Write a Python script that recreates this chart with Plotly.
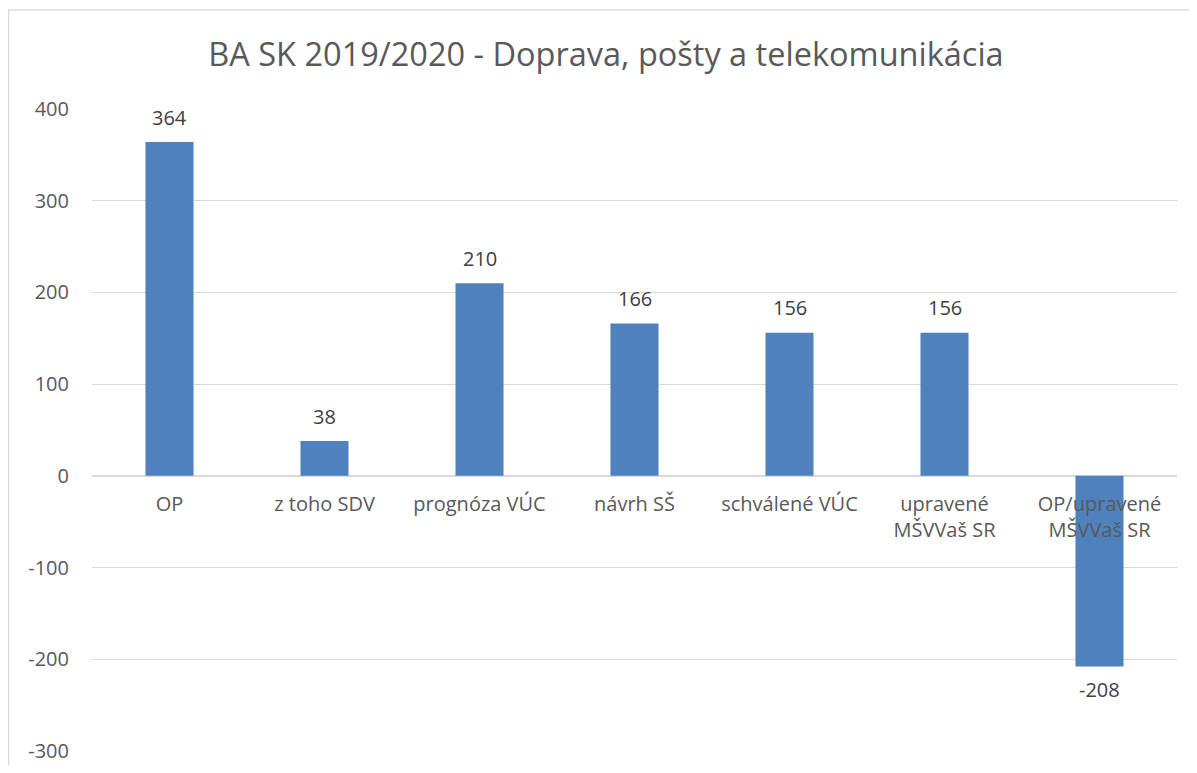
import plotly.graph_objects as go

categories = ["OP", "z toho SDV", "prognóza VÚC", "návrh SŠ", "schválené VÚC",
              "upravené<br>MŠVVaš SR", "OP/upravené<br>MŠVVaš SR"]
values = [364, 38, 210, 166, 156, 156, -208]
y_ticks = [-300, -200, -100, 0, 100, 200, 300, 400]
y_tick_labels = ["-300", "-200", "-100", "0", "100", "200", "300", "400"]
title_text = "BA SK 2019/2020 - Doprava, pošty a telekomunikácia"

FONT = "Open Sans"
OFF = 8  # page body margin
W, H = 1197 - 2 * OFF, 773 - 2 * OFF
ml, mr = 92 - OFF, W + OFF - 1177
mt, mb = 109 - OFF, H + OFF - 751
pw, ph = W - ml - mr, H - mt - mb

fig = go.Figure()
fig.add_trace(go.Bar(
    x=categories, y=values,
    marker=dict(color="#4F81BD", line=dict(width=0)),
    hoverinfo="x+y",
))

annotations = []
for c, v in zip(categories, values):
    annotations.append(dict(
        x=c, y=v, xref="x", yref="y", text=str(v), showarrow=False,
        yanchor="middle", yshift=25 if v >= 0 else -23,
        font=dict(family=FONT, size=20, color="#404040"),
    ))

fig.update_layout(
    width=W, height=H,
    margin=dict(l=ml, r=mr, t=mt, b=mb, autoexpand=False),
    paper_bgcolor="white", plot_bgcolor="white",
    bargap=0.69,
    showlegend=False,
    title=dict(text=title_text, x=(606 - 92) / pw, xanchor="center", xref="paper",
               y=1 - (55 - OFF) / H, yanchor="middle",
               font=dict(family=FONT, size=32.5, color="#595959")),
    xaxis=dict(
        anchor="free", position=3 / 7, automargin=False,
        showgrid=False, showline=False, zeroline=False,
        ticks="outside", ticklen=10, tickcolor="rgba(0,0,0,0)",
        tickfont=dict(family=FONT, size=20, color="#595959"),
        tickangle=0,
    ),
    yaxis=dict(
        range=[-300, 400], tickvals=y_ticks, ticktext=y_tick_labels, automargin=False,
        showgrid=True, gridcolor="#D9D9D9", gridwidth=1,
        zeroline=True, zerolinecolor="#D9D9D9", zerolinewidth=1.5,
        showline=False, ticks="",
        ticklabelstandoff=22,
        tickfont=dict(family=FONT, size=20, color="#595959"),
    ),
    annotations=annotations,
    shapes=[dict(
        type="rect", xref="paper", yref="paper",
        x0=(0.5 - ml) / pw, x1=1.5, y0=-0.5, y1=(H - mb - 2) / ph,
        line=dict(color="#D9D9D9", width=1.5), fillcolor="rgba(0,0,0,0)",
        layer="below",
    )],
)

fig.write_html("out.html")
